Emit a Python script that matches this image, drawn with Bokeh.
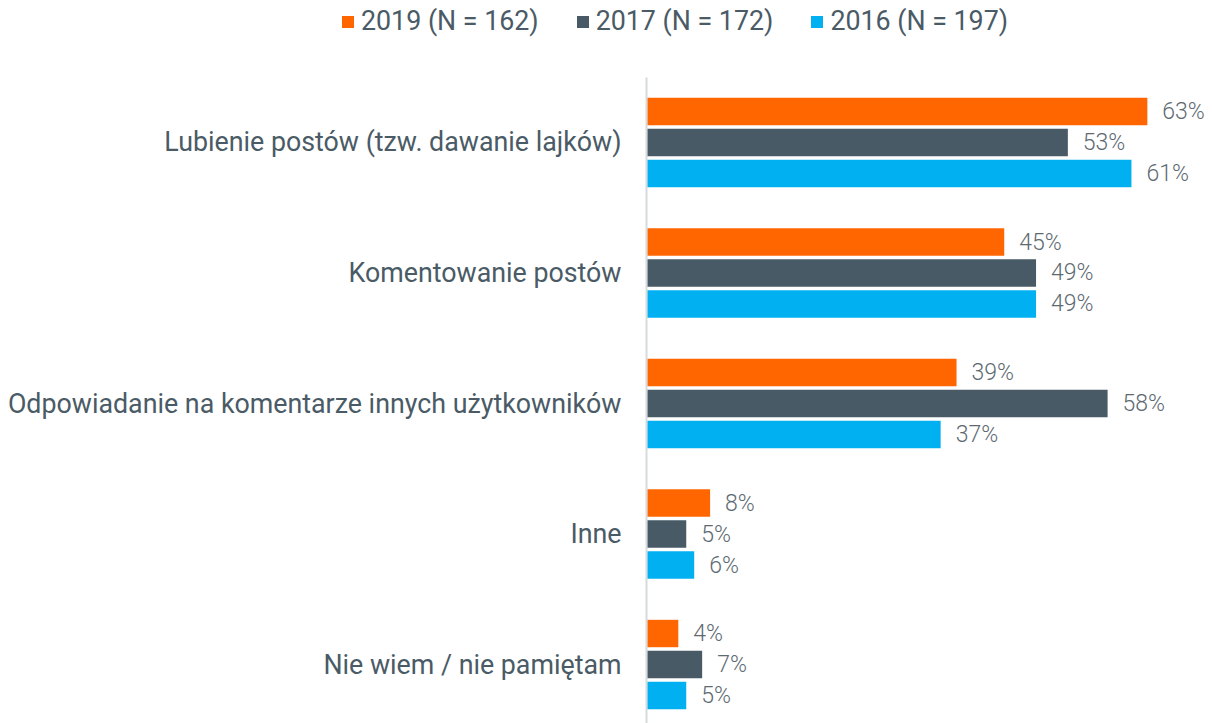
from bokeh.plotting import figure
from bokeh.models import ColumnDataSource, Range1d, Legend, LegendItem
from bokeh.core.properties import value
from bokeh.embed import file_html
from bokeh.resources import INLINE

categories = [
    "Lubienie postów (tzw. dawanie lajków)",
    "Komentowanie postów",
    "Odpowiadanie na komentarze innych użytkowników",
    "Inne",
    "Nie wiem / nie pamiętam",
]
series_names = ["2019 (N = 162)", "2017 (N = 172)", "2016 (N = 197)"]
values_2019 = [63, 45, 39, 8, 4]
values_2017 = [53, 49, 58, 5, 7]
values_2016 = [61, 49, 37, 6, 5]
colors = ["#FF6600", "#475A66", "#00B0F0"]

FONT = "Roboto"
W, H = 1212, 723
LEFT, TOP = 646, 77
px_per_unit = 7.95
group_px = 130.5
y_bottom, y_axis_top = 4.452, -0.498
y_top = y_axis_top - TOP / group_px

p = figure(width=W, height=H, output_backend="svg", toolbar_location=None,
           min_border=0, y_axis_location=None,
           x_range=Range1d(-LEFT / px_per_unit, (W - LEFT) / px_per_unit),
           y_range=Range1d(y_bottom, y_top))
p.outline_line_color = None
p.grid.visible = False
p.xaxis.visible = False
p.background_fill_color = "white"
p.border_fill_color = "white"

# category labels and axis line
cat_src = ColumnDataSource(dict(x=[0] * len(categories), y=list(range(len(categories))), text=categories))
p.text(x="x", y="y", text="text", source=cat_src, x_offset=-25,
       text_align="right", text_baseline="middle",
       text_font=value(FONT), text_font_size="26.8px", text_color="#4A5B66")
p.segment(x0=[0], y0=[y_axis_top], x1=[0], y1=[y_bottom], line_color="#D5DADD", line_width=2)

offsets = [-0.2375, 0.0, 0.2375]
all_vals = [values_2019, values_2017, values_2016]
renderers = []
for vals, off, col in zip(all_vals, offsets, colors):
    ys = [i + off for i in range(len(vals))]
    src = ColumnDataSource(dict(y=ys, right=vals, label=[f"{v}%" for v in vals]))
    r = p.hbar(y="y", right="right", left=0.13, height=0.21, source=src,
               fill_color=col, line_color=None)
    renderers.append(r)
    p.text(x="right", y="y", text="label", source=src, x_offset=15,
           text_baseline="middle", text_align="left",
           text_font=value("Roboto Light"), text_font_size="23px", text_color="#5E6A72")

legend = Legend(items=[LegendItem(label=n, renderers=[r]) for n, r in zip(series_names, renderers)],
                orientation="horizontal",
                padding=0, margin=0, spacing=36, label_standoff=6,
                glyph_width=15, glyph_height=15,
                label_text_font=FONT, label_text_font_size="26.8px",
                label_text_color="#4A5B66",
                border_line_color=None, background_fill_alpha=0)
legend.location = (340, H - 37)
p.add_layout(legend, "center")

open("out.html", "w").write(file_html(p, INLINE))
